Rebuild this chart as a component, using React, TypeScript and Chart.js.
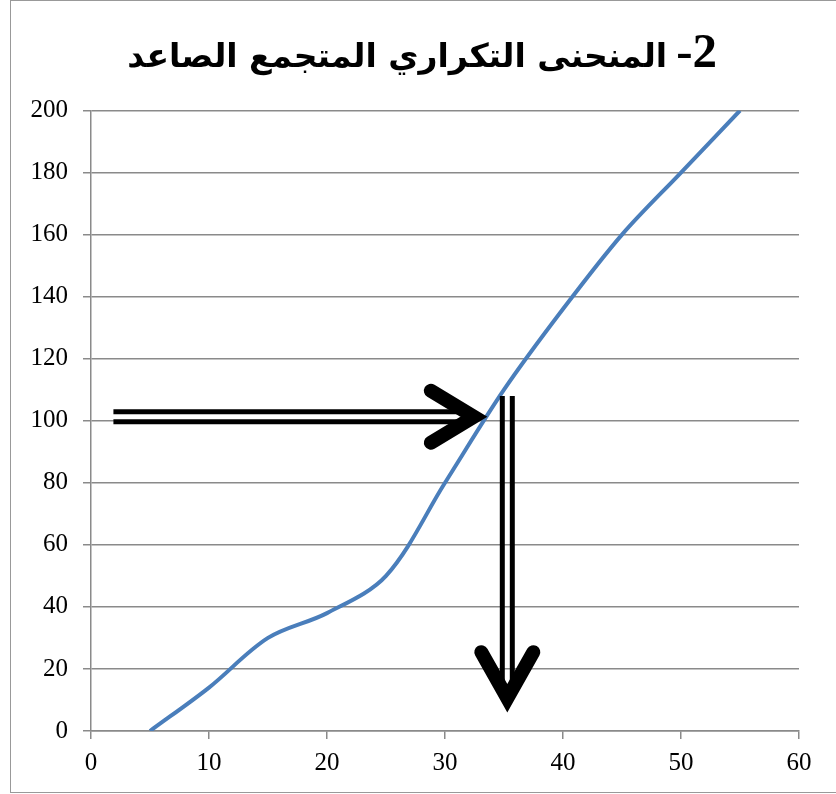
import React, { useEffect, useRef } from "react";
import { Chart, registerables } from "chart.js";

Chart.register(...registerables);

const titleNumber = "2-";
const titleWords = "المنحنى التكراري المتجمع الصاعد";
const xValues = [5, 10, 15, 20, 25, 30, 35, 40, 45, 50, 55];
const cumFreq = [0, 14, 30, 38, 50, 80, 110, 136, 160, 180, 200];
const xTicks = [0, 10, 20, 30, 40, 50, 60];
const yTicks = [0, 20, 40, 60, 80, 100, 120, 140, 160, 180, 200];

// arrow annotations in data coordinates
const hArrowStart = [1.9, 101.3];
const hArrowTip = [33.6, 101.3];
const vArrowStart = [35.28, 108];
const vArrowTip = [35.28, 6.2];

const titlePlugin = {
  id: "rtlTitle",
  afterDraw(chart: any) {
    const { ctx } = chart;
    ctx.save();
    ctx.fillStyle = "#000";
    ctx.direction = "rtl";
    ctx.textAlign = "right";
    ctx.textBaseline = "alphabetic";
    const right = 717;
    const baseline = 67;
    ctx.font = "bold 49px 'Liberation Serif', 'Times New Roman', serif";
    ctx.fillText(titleNumber, right, baseline);
    const numW = ctx.measureText(titleNumber).width;
    ctx.font = "bold 33px 'DejaVu Sans', sans-serif";
    ctx.fillText(titleWords, right - numW - 9, baseline);
    ctx.restore();
  },
};

const arrowPlugin = {
  id: "arrows",
  afterDatasetsDraw(chart: any) {
    const { ctx, scales } = chart;
    const xs = scales.x;
    const ys = scales.y;
    const px = (v: number[]) => [xs.getPixelForValue(v[0]), ys.getPixelForValue(v[1])];
    const headW = 14;
    const miter = 13.6;
    ctx.save();
    ctx.strokeStyle = "#000";
    // horizontal arrow
    const hs = px(hArrowStart);
    const ht = px(hArrowTip);
    const hv = ht[0] - miter;
    ctx.lineWidth = 5;
    ctx.lineCap = "butt";
    for (const off of [-5, 5]) {
      ctx.beginPath();
      ctx.moveTo(hs[0], hs[1] + off);
      ctx.lineTo(hv - 4, hs[1] + off);
      ctx.stroke();
    }
    ctx.lineWidth = headW;
    ctx.lineCap = "round";
    ctx.lineJoin = "miter";
    ctx.miterLimit = 10;
    ctx.beginPath();
    ctx.moveTo(hv - 43, ht[1] - 26);
    ctx.lineTo(hv, ht[1]);
    ctx.lineTo(hv - 43, ht[1] + 26);
    ctx.stroke();
    // vertical arrow
    const vs = px(vArrowStart);
    const vt = px(vArrowTip);
    const vv = vt[1] - miter;
    ctx.lineWidth = 5;
    ctx.lineCap = "butt";
    for (const off of [-5, 5]) {
      ctx.beginPath();
      ctx.moveTo(vs[0] + off, vs[1]);
      ctx.lineTo(vs[0] + off, vv - 8);
      ctx.stroke();
    }
    ctx.lineWidth = headW;
    ctx.lineCap = "round";
    ctx.beginPath();
    ctx.moveTo(vt[0] - 26, vv - 46);
    ctx.lineTo(vt[0], vv);
    ctx.lineTo(vt[0] + 26, vv - 46);
    ctx.stroke();
    ctx.restore();
  },
};

export default function App() {
  const ref = useRef<HTMLCanvasElement>(null);
  useEffect(() => {
    if (!ref.current) return;
    const gridColor = "#8a8a8a";
    const tickFont = { family: "'Liberation Serif', 'Times New Roman', serif", size: 25 };
    const chart = new Chart(ref.current, {
      type: "line",
      data: {
        datasets: [
          {
            data: xValues.map((x, i) => ({ x, y: cumFreq[i] })),
            borderColor: "#4a7ebb",
            borderWidth: 4,
            pointRadius: 0,
            tension: 0.33,
            fill: false,
          },
        ],
      },
      options: {
        animation: false,
        responsive: false,
        layout: { padding: { left: 10, right: 37, top: 110.5, bottom: 0 } },
        plugins: {
          legend: { display: false },
          tooltip: { enabled: false },
          title: { display: false },
        },
        scales: {
          x: {
            type: "linear",
            min: 0,
            max: 60,
            afterBuildTicks: (s: any) => {
              s.ticks = xTicks.map((v) => ({ value: v }));
            },
            afterFit: (s: any) => {
              s.height = 63;
            },
            ticks: { color: "#000", font: tickFont, padding: 9, maxRotation: 0 },
            grid: { drawOnChartArea: false, drawTicks: true, tickLength: 8, color: gridColor, lineWidth: 1.5 },
            border: { display: true, color: gridColor, width: 1.5 },
          },
          y: {
            type: "linear",
            min: 0,
            max: 200,
            afterBuildTicks: (s: any) => {
              s.ticks = yTicks.map((v) => ({ value: v }));
            },
            afterFit: (s: any) => {
              s.width = 81;
            },
            ticks: { color: "#000", font: tickFont, padding: 15 },
            grid: { drawOnChartArea: true, drawTicks: true, tickLength: 8, color: gridColor, lineWidth: 1.5 },
            border: { display: true, color: gridColor, width: 1.5 },
          },
        },
      },
      plugins: [arrowPlugin, titlePlugin],
    });
    return () => chart.destroy();
  }, []);
  return (
    <div style={{ position: "fixed", left: 0, top: 0, width: 836, height: 794, background: "#fff", overflow: "hidden" }}>
      <div
        style={{
          position: "absolute",
          left: 10,
          top: 0,
          width: 840,
          height: 793,
          border: "1.5px solid #999",
          boxSizing: "border-box",
        }}
      />
      <canvas ref={ref} width={836} height={794} style={{ position: "absolute", left: 0, top: 0, display: "block" }} />
    </div>
  );
}
